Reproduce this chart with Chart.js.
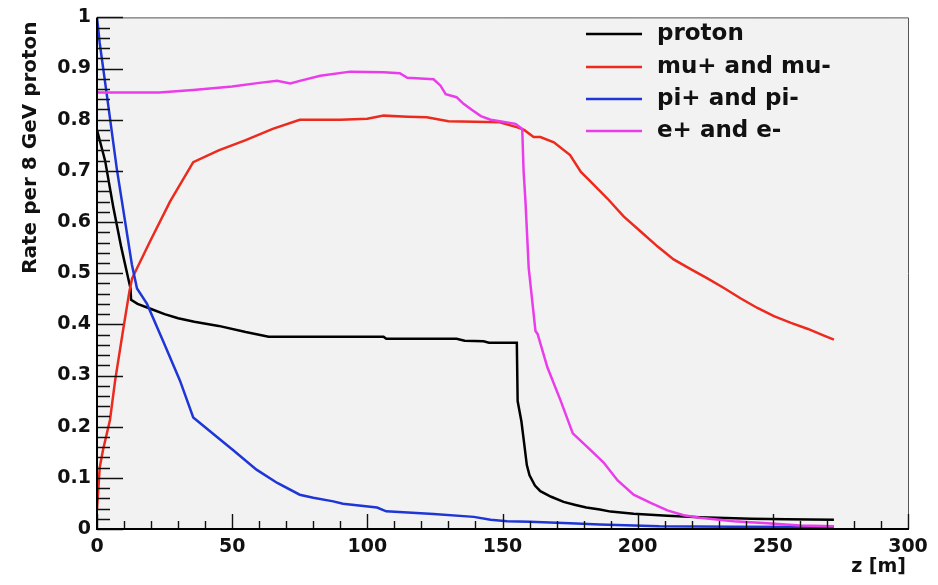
<!DOCTYPE html>
<html>
<head>
<meta charset="utf-8">
<script src="https://cdn.jsdelivr.net/npm/chart.js@4.4.1/dist/chart.umd.min.js"></script>
<style>
  html, body { margin: 0; padding: 0; background: #ffffff; }
  canvas { display: block; }
</style>
</head>
<body>
<canvas id="c" width="938" height="585"></canvas>
<script>
// Particle rates along the decay line, per 8 GeV proton on target
const seriesNames  = ['proton', 'mu+ and mu-', 'pi+ and pi-', 'e+ and e-'];
const seriesColors = ['#000000', '#ec2a1e', '#1f36d6', '#ea3cea'];

const protonZ    = [0, 3, 6, 9, 12.4, 12.6, 15, 20, 25, 30, 36, 45, 55, 63.5, 106, 107, 133, 136, 143, 145, 155.3, 155.6, 157, 158, 159, 160, 162, 164, 168, 172.6, 177, 181, 186, 190, 198.5, 211, 223, 242, 255, 272.6];
const protonRate = [0.78, 0.72, 0.63, 0.55, 0.47, 0.448, 0.44, 0.43, 0.42, 0.412, 0.405, 0.397, 0.385, 0.376, 0.376, 0.372, 0.372, 0.368, 0.367, 0.364, 0.364, 0.25, 0.21, 0.168, 0.125, 0.105, 0.085, 0.074, 0.063, 0.053, 0.047, 0.042, 0.038, 0.034, 0.030, 0.026, 0.023, 0.020, 0.019, 0.018];

const muonZ    = [0, 1, 2.2, 4.8, 6.7, 9.6, 12, 13, 19.6, 27, 35.6, 45, 55, 65, 75, 80, 90, 100, 106, 115, 122, 130, 149, 155.5, 158, 161.5, 164, 169, 175, 179, 182.6, 188.8, 194.8, 201, 207.4, 213.3, 219.6, 225.8, 231.9, 238, 244.3, 250.4, 256.7, 263, 268.9, 272.6];
const muonRate = [0.038, 0.12, 0.154, 0.213, 0.29, 0.387, 0.465, 0.49, 0.562, 0.64, 0.717, 0.74, 0.76, 0.782, 0.80, 0.80, 0.80, 0.802, 0.808, 0.806, 0.805, 0.797, 0.795, 0.785, 0.78, 0.766, 0.766, 0.756, 0.731, 0.698, 0.679, 0.646, 0.611, 0.582, 0.552, 0.527, 0.508, 0.49, 0.471, 0.451, 0.432, 0.416, 0.403, 0.391, 0.378, 0.37];

const pionZ    = [0, 1, 3.6, 7.3, 12.9, 14.8, 18.5, 24.4, 30.7, 35.6, 44.4, 50.4, 59, 66.7, 75, 80, 87.4, 91, 103.6, 107, 124.5, 139.4, 145.6, 151.7, 160, 175, 186, 208, 235, 272.6];
const pionRate = [1.0, 0.95, 0.85, 0.705, 0.517, 0.47, 0.44, 0.368, 0.29, 0.218, 0.18, 0.154, 0.116, 0.09, 0.067, 0.061, 0.054, 0.0495, 0.042, 0.0345, 0.0295, 0.0237, 0.018, 0.015, 0.014, 0.011, 0.009, 0.0055, 0.0045, 0.004];

const electronZ    = [0, 23, 35.6, 50, 60, 66.6, 71.5, 75, 82.6, 93.7, 106, 112, 114.8, 124.5, 127, 129, 133, 135.6, 139, 142, 145.6, 149, 154.8, 157.3, 157.8, 158.5, 159.1, 159.7, 161, 162.2, 163, 166.6, 171.5, 176, 182.6, 187.4, 192.6, 198.5, 204.8, 211, 217, 223, 235.5, 248, 260, 272.6];
const electronRate = [0.853, 0.853, 0.858, 0.865, 0.872, 0.876, 0.871, 0.876, 0.886, 0.894, 0.893, 0.891, 0.882, 0.879, 0.867, 0.85, 0.844, 0.831, 0.818, 0.807, 0.80, 0.797, 0.792, 0.782, 0.70, 0.64, 0.575, 0.51, 0.446, 0.387, 0.381, 0.316, 0.251, 0.187, 0.154, 0.13, 0.095, 0.067, 0.051, 0.0365, 0.027, 0.022, 0.015, 0.011, 0.007, 0.0055];

const xTickLabels = ['0', '50', '100', '150', '200', '250', '300'];
const yTickLabels = ['0', '0.1', '0.2', '0.3', '0.4', '0.5', '0.6', '0.7', '0.8', '0.9', '1'];
const xTitle = 'z [m]';
const yTitle = 'Rate per 8 GeV proton';

const seriesZ    = [protonZ, muonZ, pionZ, electronZ];
const seriesRate = [protonRate, muonRate, pionRate, electronRate];

const BOLD = 'bold';
const FAMILY = '"DejaVu Sans", "Liberation Sans", sans-serif';

function toPoints(zs, rs) {
  return zs.map((z, i) => ({ x: z, y: rs[i] }));
}

const datasets = seriesNames.map((name, i) => ({
  label: name,
  data: toPoints(seriesZ[i], seriesRate[i]),
  borderColor: seriesColors[i],
  backgroundColor: seriesColors[i],
  borderWidth: 2.5,
  pointRadius: 0,
  tension: 0,
  fill: false,
  order: seriesNames.length - 1 - i
}));

// Frame, inward ticks, axis titles and legend in the ROOT style
const rootFrame = {
  id: 'rootFrame',
  beforeDatasetsDraw(chart) {
    const { ctx, chartArea: a } = chart;
    ctx.save();
    ctx.fillStyle = '#f2f2f2';
    ctx.fillRect(a.left, a.top, a.right - a.left, a.bottom - a.top);
    ctx.restore();
  },
  afterDatasetsDraw(chart) {
    const { ctx, chartArea: a, scales } = chart;
    const xs = scales.x, ys = scales.y;
    ctx.save();

    // thin top/right frame
    ctx.strokeStyle = '#555555';
    ctx.lineWidth = 1;
    ctx.beginPath();
    ctx.moveTo(a.left, a.top + 0.5);
    ctx.lineTo(a.right + 0.5, a.top + 0.5);
    ctx.lineTo(a.right + 0.5, a.bottom);
    ctx.stroke();

    // inward ticks on the x axis
    ctx.strokeStyle = '#111111';
    ctx.lineWidth = 1.4;
    ctx.beginPath();
    for (let v = 0; v <= 300; v += 10) {
      const px = Math.round(xs.getPixelForValue(v)) + 0.5;
      const len = (v % 50 === 0) ? 15 : 8;
      ctx.moveTo(px, a.bottom);
      ctx.lineTo(px, a.bottom - len);
    }
    // inward ticks on the y axis
    for (let k = 0; k <= 50; k++) {
      const py = Math.round(ys.getPixelForValue(k * 0.02)) + 0.5;
      const len = (k % 5 === 0) ? 26 : 13;
      ctx.moveTo(a.left, py);
      ctx.lineTo(a.left + len, py);
    }
    ctx.stroke();

    // axis lines
    ctx.strokeStyle = '#000000';
    ctx.lineWidth = 2;
    ctx.beginPath();
    ctx.moveTo(a.left, a.top);
    ctx.lineTo(a.left, a.bottom);
    ctx.lineTo(a.right + 1, a.bottom);
    ctx.stroke();

    // axis titles
    ctx.fillStyle = '#111111';
    ctx.font = BOLD + ' 20px ' + FAMILY;
    ctx.save();
    ctx.translate(31, a.top + 4);
    ctx.rotate(-Math.PI / 2);
    ctx.textAlign = 'right';
    ctx.textBaseline = 'middle';
    ctx.fillText(yTitle, 0, 0);
    ctx.restore();

    ctx.font = BOLD + ' 19px ' + FAMILY;
    ctx.textAlign = 'right';
    ctx.textBaseline = 'middle';
    ctx.fillText(xTitle, a.right - 2, 567);

    // legend
    const rowY = [34, 67, 99, 131];
    ctx.font = BOLD + ' 23px ' + FAMILY;
    ctx.textAlign = 'left';
    chart.data.datasets.forEach((ds, i) => {
      ctx.strokeStyle = ds.borderColor;
      ctx.lineWidth = 2.5;
      ctx.beginPath();
      ctx.moveTo(586, rowY[i]);
      ctx.lineTo(642, rowY[i]);
      ctx.stroke();
      ctx.fillStyle = '#111111';
      ctx.fillText(ds.label, 657, rowY[i]);
    });

    ctx.restore();
  }
};

new Chart(document.getElementById('c'), {
  type: 'line',
  data: { datasets },
  options: {
    responsive: false,
    devicePixelRatio: 1,
    animation: false,
    layout: { padding: { top: 14, right: 30, left: 0, bottom: 0 } },
    plugins: { legend: { display: false }, tooltip: { enabled: false } },
    scales: {
      x: {
        type: 'linear',
        min: 0, max: 300,
        border: { display: false },
        grid: { display: false, drawTicks: false },
        ticks: {
          stepSize: 50,
          padding: 7,
          color: '#111111',
          font: { family: FAMILY, size: 19, weight: BOLD },
          maxRotation: 0,
          callback: (v) => xTickLabels[Math.round(v / 50)]
        },
        afterFit(scale) { scale.height = 56; }
      },
      y: {
        type: 'linear',
        min: 0, max: 1,
        border: { display: false },
        grid: { display: false, drawTicks: false },
        ticks: {
          stepSize: 0.1,
          padding: 6,
          color: '#111111',
          font: { family: FAMILY, size: 19, weight: BOLD },
          callback: (v) => yTickLabels[Math.round(v / 0.1)]
        },
        afterFit(scale) { scale.width = 97; }
      }
    }
  },
  plugins: [rootFrame]
});
</script>
</body>
</html>
